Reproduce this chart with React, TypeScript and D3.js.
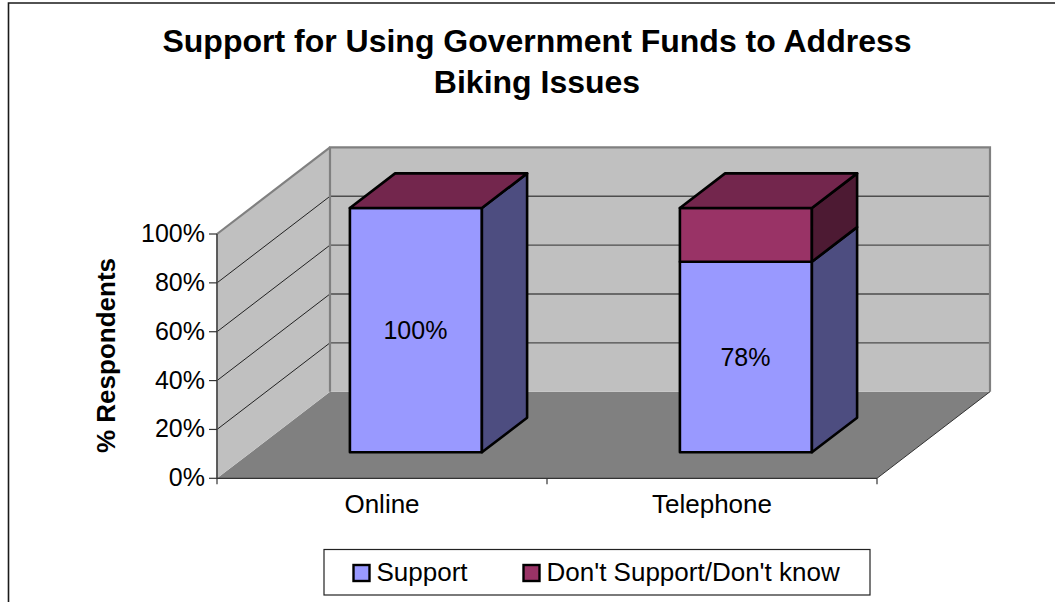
import React from "react";
import * as d3 from "d3";

const categories = ["Online", "Telephone"];
const seriesNames = ["Support", "Don't Support/Don't know"];
const supportValues = [100, 78];
const otherValues = [0, 22];
const percentTicks = [0, 20, 40, 60, 80, 100];
const titleLines = ["Support for Using Government Funds to Address", "Biking Issues"];

const FONT = "'Liberation Sans', Arial, sans-serif";
const frontFaces = ["#9999FF", "#993366"];
const sideFaces = ["#4D4D80", "#4D1A33"];
const topFace = "#73264D";

// Oblique projection: depth 0 is the front of the floor, depth 1 the back wall.
const DEPTH_X = 113;
const DEPTH_Y = -86.6;
const BAR_NEAR = 0.3;
const BAR_FAR = 0.7;

const xBand = d3.scaleBand<string>().domain(categories).range([217, 877]).paddingInner(0.6).paddingOuter(0.3);
const yPct = d3.scaleLinear().domain([0, 100]).range([478.3, 234]);

const pt = (x: number, y: number, depth: number): [number, number] => [x + depth * DEPTH_X, y + depth * DEPTH_Y];
const poly = (pts: [number, number][]) => d3.line()(pts)! + "Z";

const barStroke = { stroke: "#000", strokeWidth: 2.6, strokeLinejoin: "round" as const };

function Segment({ x0, x1, lo, hi, idx }: { x0: number; x1: number; lo: number; hi: number; idx: number }) {
  const yLo = yPct(lo);
  const yHi = yPct(hi);
  return (
    <g>
      <path d={poly([pt(x0, yLo, BAR_NEAR), pt(x1, yLo, BAR_NEAR), pt(x1, yHi, BAR_NEAR), pt(x0, yHi, BAR_NEAR)])} fill={frontFaces[idx]} {...barStroke} />
      <path d={poly([pt(x1, yLo, BAR_NEAR), pt(x1, yLo, BAR_FAR), pt(x1, yHi, BAR_FAR), pt(x1, yHi, BAR_NEAR)])} fill={sideFaces[idx]} {...barStroke} />
    </g>
  );
}

export default function App() {
  const xLeft = xBand.range()[0];
  const xRight = xBand.range()[1];
  const yBase = yPct(0);
  const yTop = yPct(100);
  const step = xBand.step();

  return (
    <svg width={1055} height={602} style={{ position: "absolute", left: 0, top: 0, fontFamily: FONT }}>
      <rect width={1055} height={602} fill="#fff" />
      {/* chart frame, open on the right and at the bottom */}
      <path d="M8.5,602V3H1055" fill="none" stroke="#1a1a1a" strokeWidth={1.6} />

      {titleLines.map((line, i) => (
        <text key={line} x={537} y={52 + i * 41} textAnchor="middle" fontSize={32} fontWeight="bold" fill="#000">
          {line}
        </text>
      ))}

      {/* floor and walls */}
      <path d={poly([pt(xLeft, yBase, 0), pt(xRight, yBase, 0), pt(xRight, yBase, 1), pt(xLeft, yBase, 1)])} fill="#808080" />
      <path d={poly([pt(xLeft, yBase, 1), pt(xRight, yBase, 1), pt(xRight, yTop, 1), pt(xLeft, yTop, 1)])} fill="#C0C0C0" />
      <path d={poly([pt(xLeft, yBase, 0), pt(xLeft, yBase, 1), pt(xLeft, yTop, 1), pt(xLeft, yTop, 0)])} fill="#C0C0C0" />

      {/* gridlines across the side wall and back wall */}
      {percentTicks.slice(1, -1).map((t) => (
        <g key={t}>
          <path d={d3.line()([pt(xLeft, yPct(t), 0), pt(xLeft, yPct(t), 1)])!} fill="none" stroke="#222" strokeWidth={1} />
          <path d={d3.line()([pt(xLeft, yPct(t), 1), pt(xRight, yPct(t), 1)])!} fill="none" stroke="#4d4d4d" strokeWidth={1.4} />
        </g>
      ))}

      {/* wall outlines */}
      <path
        d={d3.line()([pt(xLeft, yBase, 1), pt(xLeft, yTop, 1), pt(xRight, yTop, 1), pt(xRight, yBase, 1)])!}
        fill="none"
        stroke="#808080"
        strokeWidth={2.2}
      />
      <path d={d3.line()([pt(xLeft, yTop, 0), pt(xLeft, yTop, 1)])!} fill="none" stroke="#808080" strokeWidth={2.2} />
      <path d={d3.line()([pt(xRight, yBase, 0), pt(xRight, yBase, 1)])!} fill="none" stroke="#333" strokeWidth={1} />

      {/* stacked bars */}
      {categories.map((cat, i) => {
        const x0 = xBand(cat)!;
        const x1 = x0 + xBand.bandwidth();
        const support = supportValues[i];
        const other = otherValues[i];
        const total = support + other;
        const yT = yPct(total);
        return (
          <g key={cat}>
            <Segment x0={x0} x1={x1} lo={0} hi={support} idx={0} />
            {other > 0 && <Segment x0={x0} x1={x1} lo={support} hi={total} idx={1} />}
            <path
              d={poly([pt(x0, yT, BAR_NEAR), pt(x1, yT, BAR_NEAR), pt(x1, yT, BAR_FAR), pt(x0, yT, BAR_FAR)])}
              fill={topFace}
              {...barStroke}
            />
            <text
              x={(x0 + x1) / 2 + BAR_NEAR * DEPTH_X - 0.5}
              y={yPct(support / 2) + BAR_NEAR * DEPTH_Y + 9}
              textAnchor="middle"
              fontSize={25}
              fill="#000"
            >
              {support}%
            </text>
          </g>
        );
      })}

      {/* value axis */}
      <line x1={xLeft} x2={xLeft} y1={yTop} y2={yBase} stroke="#4d4d4d" strokeWidth={1.8} />
      {percentTicks.map((t) => (
        <g key={t}>
          <line x1={xLeft - 8} x2={xLeft} y1={yPct(t)} y2={yPct(t)} stroke="#333" strokeWidth={1.2} />
          <text x={205} y={yPct(t) + 8} textAnchor="end" fontSize={25} fill="#000">
            {t}%
          </text>
        </g>
      ))}
      <text transform="translate(115,355.5) rotate(-90)" textAnchor="middle" fontSize={26} fontWeight="bold" fill="#000">
        % Respondents
      </text>

      {/* category axis */}
      <line x1={xLeft} x2={xRight} y1={yBase} y2={yBase} stroke="#333" strokeWidth={1.2} />
      {d3.range(categories.length + 1).map((k) => (
        <line key={k} x1={xLeft + k * step} x2={xLeft + k * step} y1={yBase} y2={yBase + 6} stroke="#333" strokeWidth={1.2} />
      ))}
      {categories.map((cat) => (
        <text key={cat} x={xBand(cat)! + xBand.bandwidth() / 2} y={513} textAnchor="middle" fontSize={26} fill="#000">
          {cat}
        </text>
      ))}

      {/* legend */}
      <rect x={324} y={549.5} width={546} height={45.5} fill="#fff" stroke="#222" strokeWidth={1.2} />
      {seriesNames.map((name, i) => {
        const sx = [353.5, 523.5][i];
        return (
          <g key={name}>
            <rect x={sx} y={565} width={16} height={16} fill={frontFaces[i]} stroke="#000" strokeWidth={2.4} />
            <text x={sx + 23} y={581} fontSize={26} fill="#000">
              {name}
            </text>
          </g>
        );
      })}
    </svg>
  );
}
